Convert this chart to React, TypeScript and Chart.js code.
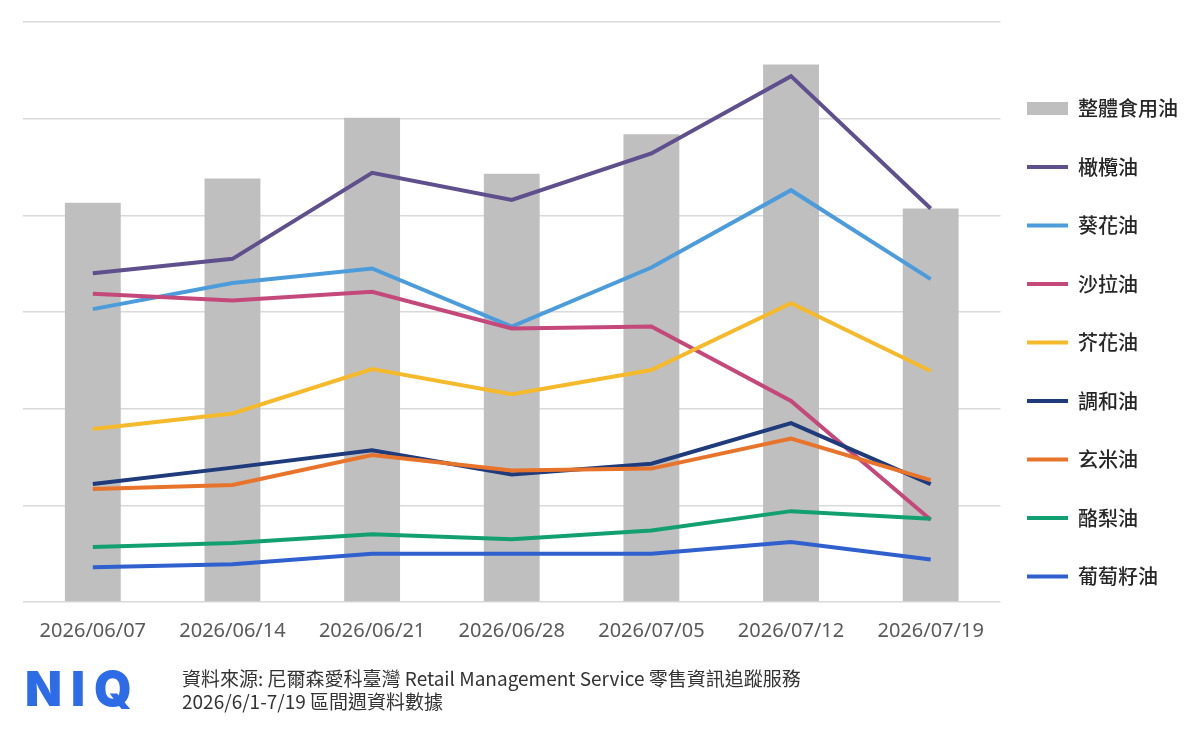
import React, { useEffect, useRef } from "react";
import { Chart, registerables } from "chart.js";

Chart.register(...registerables);

const categories = [
  "2026/06/07",
  "2026/06/14",
  "2026/06/21",
  "2026/06/28",
  "2026/07/05",
  "2026/07/12",
  "2026/07/19",
];

const totalOil = [41.3, 43.8, 50.1, 44.3, 48.4, 55.6, 40.7];
const oliveOil = [34.0, 35.5, 44.4, 41.6, 46.4, 54.4, 40.7];
const sunflowerOil = [30.3, 33.0, 34.5, 28.5, 34.6, 42.6, 33.4];
const saladOil = [31.9, 31.2, 32.1, 28.3, 28.5, 20.8, 8.5];
const canolaOil = [17.9, 19.5, 24.1, 21.5, 24.0, 30.9, 23.9];
const blendedOil = [12.2, 13.9, 15.7, 13.2, 14.3, 18.5, 12.2];
const riceBranOil = [11.7, 12.1, 15.2, 13.6, 13.8, 16.9, 12.6];
const avocadoOil = [5.7, 6.1, 7.0, 6.5, 7.4, 9.4, 8.6];
const grapeseedOil = [3.6, 3.9, 5.0, 5.0, 5.0, 6.2, 4.4];

const lineSeries = [
  { label: "橄欖油", data: oliveOil, color: "#5F4F8D" },
  { label: "葵花油", data: sunflowerOil, color: "#4C9BDB" },
  { label: "沙拉油", data: saladOil, color: "#C4497A" },
  { label: "芥花油", data: canolaOil, color: "#F5B92C" },
  { label: "調和油", data: blendedOil, color: "#1F3B7B" },
  { label: "玄米油", data: riceBranOil, color: "#E8742C" },
  { label: "酪梨油", data: avocadoOil, color: "#13A070" },
  { label: "葡萄籽油", data: grapeseedOil, color: "#2F60CE" },
];

// nudges the legend block (left / down) after the layout is computed
const legendNudge = {
  id: "legendNudge",
  afterLayout(chart: any) {
    const lg = chart.legend;
    if (!lg) return;
    const dx = -12;
    const dy = 1.5;
    lg.left += dx;
    lg.right += dx;
    lg.top += dy;
    lg.bottom += dy;
  },
};

export default function App() {
  const canvasRef = useRef<HTMLCanvasElement | null>(null);

  useEffect(() => {
    const canvas = canvasRef.current;
    if (!canvas) return;
    const datasets: any[] = [
      {
        type: "bar",
        label: "整體食用油",
        data: totalOil,
        backgroundColor: "#BFBFBF",
        borderWidth: 0,
        barPercentage: 0.4,
        categoryPercentage: 1,
        order: 100,
      },
      ...lineSeries.map((s, i) => ({
        type: "line",
        label: s.label,
        data: s.data,
        borderColor: s.color,
        backgroundColor: s.color,
        borderWidth: 4,
        pointRadius: 0,
        pointHoverRadius: 0,
        tension: 0,
        fill: false,
        order: 20 - i,
        pointStyle: "line",
      })),
    ];

    const chart = new Chart(canvas, {
      type: "bar",
      data: { labels: categories, datasets },
      plugins: [legendNudge],
      options: {
        responsive: false,
        animation: false,
        devicePixelRatio: 1,
        layout: { padding: { left: 23, right: 0, top: 22, bottom: 3 } },
        plugins: {
          tooltip: { enabled: false },
          legend: {
            position: "right",
            align: "center",
            maxWidth: 200,
            labels: {
              usePointStyle: true,
              pointStyleWidth: 41,
              boxHeight: 13,
              padding: 38.5,
              color: "#262626",
              font: { family: "'Noto Sans CJK TC'", size: 20, weight: 500 },
              sort: (a: any, b: any) => a.datasetIndex - b.datasetIndex,
              generateLabels: (ch: any) => {
                return ch.data.datasets.map((ds: any, i: number) => {
                  const isBar = ds.type === "bar";
                  return {
                    text: ds.label,
                    datasetIndex: i,
                    fillStyle: isBar ? ds.backgroundColor : ds.borderColor,
                    strokeStyle: isBar ? ds.backgroundColor : ds.borderColor,
                    lineWidth: isBar ? 0 : 4,
                    pointStyle: isBar ? "rect" : "line",
                    hidden: false,
                    fontColor: "#262626",
                  };
                });
              },
            },
          },
        },
        scales: {
          x: {
            offset: true,
            grid: { display: false, drawTicks: false },
            border: { display: false },
            ticks: {
              color: "#595959",
              padding: 17,
              font: { family: "'Noto Sans'", size: 20 },
              maxRotation: 0,
            },
          },
          y: {
            min: 0,
            max: 60,
            grid: { color: "#D9D9D9", lineWidth: 1.5, drawTicks: false },
            border: { display: false },
            ticks: { display: false, stepSize: 10 },
          },
        },
      },
    });
    return () => chart.destroy();
  }, []);

  return (
    <div style={{ position: "absolute", left: 0, top: 0, width: 1200, height: 731, background: "#fff" }}>
      <canvas ref={canvasRef} width={1200} height={663} style={{ position: "absolute", left: 0, top: 0 }} />
      <div
        style={{
          position: "absolute",
          left: 25,
          top: 665,
          fontFamily: "Inter, 'Noto Sans', sans-serif",
          fontWeight: 900,
          fontSize: 48,
          lineHeight: 1,
          letterSpacing: 9,
          color: "#2E6BE6",
        }}
      >
        NIQ
      </div>
      <div
        style={{
          position: "absolute",
          left: 182,
          top: 666,
          fontFamily: "'Noto Sans CJK TC', sans-serif",
          fontSize: 19,
          lineHeight: "23px",
          color: "#333333",
          whiteSpace: "nowrap",
        }}
      >
        <div>資料來源: 尼爾森愛科臺灣 Retail Management Service 零售資訊追蹤服務</div>
        <div>2026/6/1-7/19 區間週資料數據</div>
      </div>
    </div>
  );
}
